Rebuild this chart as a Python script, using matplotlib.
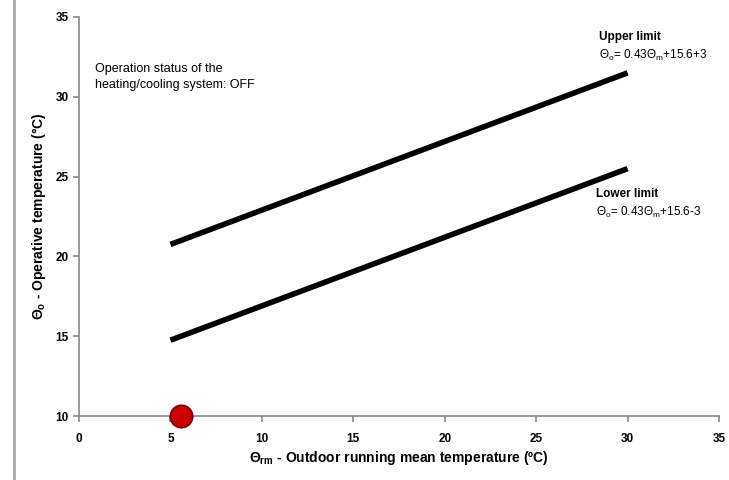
import numpy as np
import matplotlib
matplotlib.use('Agg')
import matplotlib.pyplot as plt
from matplotlib.lines import Line2D

# adaptive comfort limits (EN 15251 style)
runningMean = [5, 30]
upperLimit = [0.43 * t + 15.6 + 3 for t in runningMean]
lowerLimit = [0.43 * t + 15.6 - 3 for t in runningMean]
# measured operating point
pointX = [5.6]
pointY = [10]

plt.rcParams['font.family'] = ['Liberation Sans', 'DejaVu Sans']
plt.rcParams['mathtext.fontset'] = 'custom'
plt.rcParams['mathtext.rm'] = 'Liberation Sans'
plt.rcParams['mathtext.it'] = 'Liberation Sans'
plt.rcParams['mathtext.bf'] = 'Liberation Sans:bold'

fig = plt.figure(figsize=(7.29, 4.8), dpi=100)
ax = fig.add_axes([0.1084, 0.1333, 0.8779, 0.8313])

ax.plot(runningMean, upperLimit, color='black', lw=4, solid_capstyle='butt')
ax.plot(runningMean, lowerLimit, color='black', lw=4, solid_capstyle='butt')
ax.scatter(pointX, pointY, s=260, color='#cc0000', edgecolor='#7a0000', lw=1.2, zorder=5, clip_on=False)

ax.set_xlim(0, 35)
ax.set_ylim(10, 35)
ax.set_xticks(range(0, 36, 5))
ax.set_yticks(range(10, 36, 5))
for side in ('top', 'right'):
    ax.spines[side].set_visible(False)
for side in ('left', 'bottom'):
    ax.spines[side].set_color('#888888')
    ax.spines[side].set_linewidth(1.2)
ax.tick_params(colors='#888888', length=4, width=1.2, labelcolor='black', labelsize=8.5)
ax.tick_params(axis='x', pad=8)
for lbl in ax.get_xticklabels() + ax.get_yticklabels():
    lbl.set_fontweight('bold')

ax.set_xlabel(r'$\mathbf{\Theta_{rm}}$ - Outdoor running mean temperature (ºC)', fontsize=10, fontweight='bold', labelpad=3)
ax.set_ylabel(r'$\mathbf{\Theta_{o}}$ - Operative temperature (°C)', fontsize=10, fontweight='bold', labelpad=5)

ax.text(28.44, 33.75, 'Upper limit', fontsize=8.5, fontweight='bold', va='center')
ax.text(28.44, 32.62, r'$\Theta_o$= 0.43$\Theta_m$+15.6+3', fontsize=8.5, va='center')
ax.text(28.27, 23.91, 'Lower limit', fontsize=8.5, fontweight='bold', va='center')
ax.text(28.27, 22.78, r'$\Theta_o$= 0.43$\Theta_m$+15.6-3', fontsize=8.5, va='center')
ax.text(0.85, 31.24, 'Operation status of the\nheating/cooling system: OFF', fontsize=9, linespacing=1.45, va='center')

# page border on the left
fig.add_artist(Line2D([0.019, 0.019], [0, 1], transform=fig.transFigure, color='#aaaaaa', lw=2))

plt.savefig('out.png', dpi=100)
